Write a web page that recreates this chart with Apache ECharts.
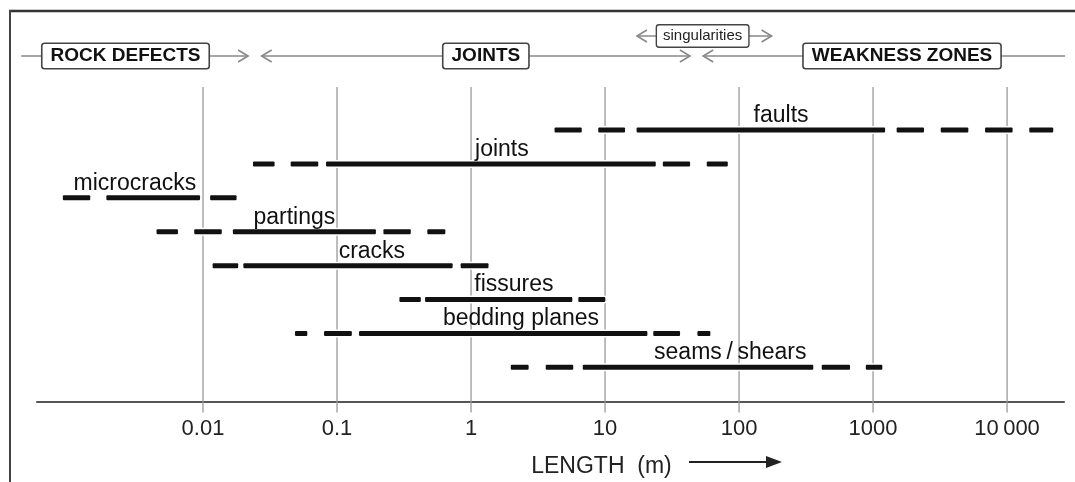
<!DOCTYPE html>
<html><head><meta charset="utf-8">
<script src="https://cdn.jsdelivr.net/npm/echarts@6/dist/echarts.min.js"></script>
<style>html,body{margin:0;padding:0;background:#fff}#c{width:1075px;height:482px}</style>
</head><body><div id="c"></div>
<script>
// ---------- DATA (lengths in metres) ----------
const rowNames = ['faults', 'joints', 'microcracks', 'partings', 'cracks', 'fissures', 'bedding planes', 'seams\u2009/\u2009shears'];
const faults      = [[4.2, 6.7], [8.9, 14.1], [17.2, 1230], [1500, 2400], [3200, 5140], [6850, 11000], [14650, 22100]];
const joints      = [[0.0236, 0.0342], [0.0451, 0.0724], [0.0828, 23.9], [27, 43.1], [57.4, 82.4]];
const microcracks = [[0.0009, 0.00144], [0.0019, 0.0095], [0.0113, 0.0178]];
const partings    = [[0.0045, 0.0065], [0.0086, 0.0138], [0.0167, 0.195], [0.222, 0.355], [0.472, 0.643]];
const cracks      = [[0.0118, 0.0183], [0.020, 0.729], [0.837, 1.35]];
const fissures    = [[0.292, 0.422], [0.454, 5.7], [6.32, 10.05]];
const bedding     = [[0.0486, 0.060], [0.080, 0.129], [0.146, 20.7], [22.9, 36.3], [48.9, 61.1]];
const seams       = [[1.98, 2.69], [3.61, 5.79], [6.82, 358], [414, 673], [883, 1173]];
const rowSegments = [faults, joints, microcracks, partings, cracks, fissures, bedding, seams];
const labelAt = [206, 1.70, 0.0031, 0.048, 0.182, 2.09, 2.36, 86];

const tickValues = [0.01, 0.1, 1, 10, 100, 1000, 10000];
const tickLabels = ['0.01', '0.1', '1', '10', '100', '1000', '10\u2009000'];

const headerRanges = [[0.00044, 0.0217], [0.0274, 43], [54, 27100]];
const headerBoxes  = ['ROCK DEFECTS', 'JOINTS', 'WEAKNESS ZONES'];
const headerBoxAt  = [0.00264, 1.29, 1645];
const singularRange = [17.3, 175];
const singularAt = 53.5;
const axisRange = [0.000577, 26600];

// ---------- BUILD ----------
const lg = Math.log10;
const FONT = '"Liberation Sans", Arial, Helvetica, sans-serif';
const segData = [];
rowSegments.forEach((segs, r) => segs.forEach(s => segData.push([lg(s[0]), lg(s[1]), r])));
const labelData = labelAt.map((v, r) => [lg(v), r]);
const gridData = tickValues.map(v => [lg(v), 0]);

function chevron(x, y, dir, col) {
  return { type: 'polyline', shape: { points: [[x - dir * 10, y - 6], [x, y], [x - dir * 10, y + 6]] },
    style: { stroke: col, lineWidth: 1.6, fill: null } };
}

const chart = echarts.init(document.getElementById('c'), null, { renderer: 'canvas' });
chart.setOption({
  animation: false,
  backgroundColor: '#fff',
  grid: { left: 37, right: 11, top: 87, bottom: 80.4, containLabel: false, outerBoundsMode: 'none' },
  xAxis: {
    type: 'value', min: lg(axisRange[0]), max: lg(axisRange[1]),
    axisLine: { show: true, onZero: false, lineStyle: { color: '#555', width: 2 } },
    axisTick: { show: false },
    axisLabel: {
      show: true, customValues: tickValues.map(lg), margin: 16, fontSize: 22, color: '#222', fontFamily: FONT,
      formatter: v => { const i = tickValues.findIndex(t => Math.abs(lg(t) - v) < 1e-6); return i >= 0 ? tickLabels[i] : ''; }
    },
    splitLine: { show: false },
    name: 'LENGTH  (m)', nameLocation: 'middle', nameGap: 54,
    nameTextStyle: { fontSize: 23, color: '#222', fontFamily: FONT, padding: [0, 0, 0, 102] }
  },
  yAxis: { type: 'value', inverse: true, min: -1.27, max: 8.01, show: false },
  series: [
    { // vertical grid lines (extend a little below the axis line as ticks)
      type: 'custom', z: 1, silent: true, clip: false, data: gridData,
      renderItem: (params, api) => {
        const cs = params.coordSys; const x = api.coord([api.value(0), 0])[0];
        return { type: 'line', shape: { x1: x, y1: cs.y, x2: x, y2: cs.y + cs.height + 11 }, style: { stroke: '#999', lineWidth: 1.3 } };
      }
    },
    { // segments
      type: 'custom', z: 3, silent: true, clip: false, data: segData,
      renderItem: (params, api) => {
        const a = api.coord([api.value(0), api.value(2)]);
        const b = api.coord([api.value(1), api.value(2)]);
        const h = 5;
        return { type: 'rect', shape: { x: a[0], y: a[1] - h / 2, width: b[0] - a[0], height: h, r: 1 },
          style: { fill: '#111', stroke: '#fff', lineWidth: 3, strokeFirst: true } };
      }
    },
    { // row labels
      type: 'custom', z: 4, silent: true, clip: false, data: labelData,
      renderItem: (params, api) => {
        const p = api.coord([api.value(0), api.value(1)]);
        return { type: 'text', x: p[0], y: p[1] - 3,
          style: { text: rowNames[params.dataIndex], align: 'center', verticalAlign: 'bottom', fontSize: 23, fontFamily: FONT, fill: '#111' } };
      }
    },
    { // header
      type: 'custom', z: 5, silent: true, clip: false, data: [[0, 0]],
      renderItem: (params, api) => {
        const cs = params.coordSys;
        const X = v => api.coord([lg(v), 0])[0];
        const yH = cs.y - 31, yS = cs.y - 51;
        const lineCol = '#888';
        const kids = [];
        headerRanges.forEach((r, i) => {
          const x1 = X(r[0]), x2 = X(r[1]);
          kids.push({ type: 'line', shape: { x1: x1, y1: yH, x2: x2, y2: yH }, style: { stroke: lineCol, lineWidth: 1.6 } });
          if (i > 0) kids.push(chevron(x1, yH, -1, lineCol));
          if (i < headerRanges.length - 1) kids.push(chevron(x2, yH, 1, lineCol));
        });
        headerBoxes.forEach((t, i) => {
          kids.push({ type: 'text', x: X(headerBoxAt[i]), y: yH,
            style: { text: t, align: 'center', verticalAlign: 'middle', fontSize: 19, fontWeight: 'bold', fontFamily: FONT, fill: '#111',
              backgroundColor: '#fff', borderColor: '#444', borderWidth: 1.6, borderRadius: 2, padding: [3, 8, 2, 8], lineHeight: 19 } });
        });
        const s1 = X(singularRange[0]), s2 = X(singularRange[1]);
        kids.push({ type: 'line', shape: { x1: s1, y1: yS, x2: s2, y2: yS }, style: { stroke: lineCol, lineWidth: 1.6 } });
        kids.push(chevron(s1, yS, -1, lineCol));
        kids.push(chevron(s2, yS, 1, lineCol));
        kids.push({ type: 'text', x: X(singularAt), y: yS,
          style: { text: 'singularities', align: 'center', verticalAlign: 'middle', fontSize: 15, fontFamily: FONT, fill: '#222',
            backgroundColor: '#fff', borderColor: '#444', borderWidth: 1.4, borderRadius: 2, padding: [3, 6, 3, 6], lineHeight: 15 } });
        return { type: 'group', children: kids };
      }
    }
  ],
  graphic: [
    { type: 'line', shape: { x1: 9, y1: 11, x2: 1075, y2: 11 }, style: { stroke: '#333', lineWidth: 2.5 } },
    { type: 'line', shape: { x1: 10, y1: 10, x2: 10, y2: 482 }, style: { stroke: '#444', lineWidth: 2 } },
    { type: 'line', shape: { x1: 689, y1: 462, x2: 770, y2: 462 }, style: { stroke: '#222', lineWidth: 2 } },
    { type: 'polygon', shape: { points: [[766, 456], [782, 462], [766, 468]] }, style: { fill: '#222' } }
  ]
});
</script></body></html>
